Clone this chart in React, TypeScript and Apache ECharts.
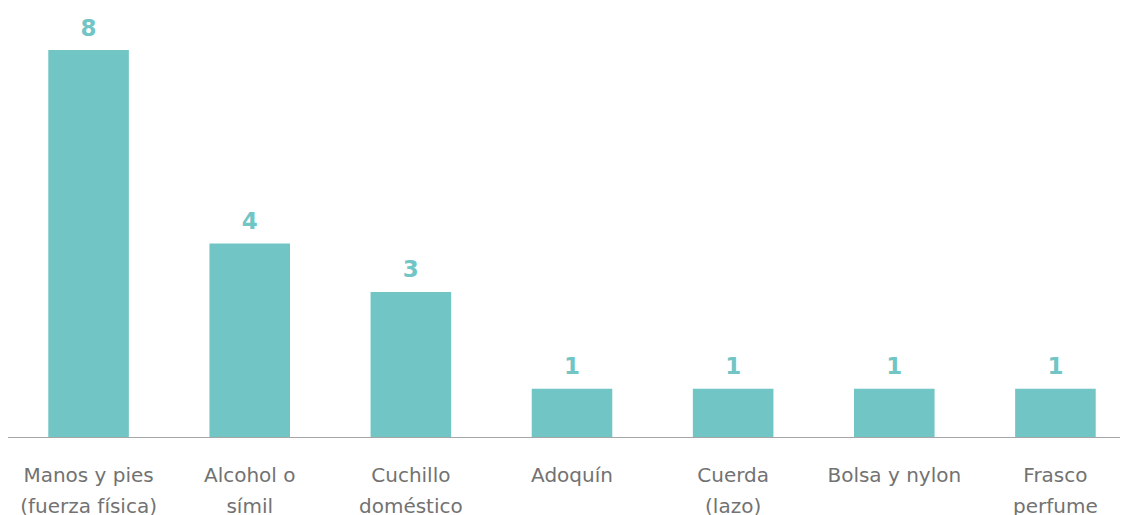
import React, { useEffect, useRef } from "react";
import * as echarts from "echarts";

const categories = [
  "Manos y pies\n(fuerza física)",
  "Alcohol o\nsímil",
  "Cuchillo\ndoméstico",
  "Adoquín",
  "Cuerda\n(lazo)",
  "Bolsa y nylon",
  "Frasco\nperfume",
];
const values = [8, 4, 3, 1, 1, 1, 1];

const TEAL = "#72C5C5";

export default function App() {
  const ref = useRef<HTMLDivElement>(null);
  useEffect(() => {
    if (!ref.current) return;
    const chart = echarts.init(ref.current, undefined, { renderer: "svg" });
    chart.setOption({
      animation: false,
      grid: {
        left: 0,
        width: 1128,
        top: 42,
        height: 387,
        containLabel: false,
        outerBoundsMode: "none",
      },
      xAxis: {
        type: "category",
        data: categories,
        axisLine: { show: true, lineStyle: { color: "#a6a6a6", width: 1 } },
        axisTick: { show: false },
        axisLabel: {
          interval: 0,
          color: "#727272",
          fontSize: 20,
          fontFamily: "DejaVu Sans",
          lineHeight: 31,
          margin: 22,
        },
      },
      yAxis: {
        type: "value",
        min: 0,
        max: 8,
        show: false,
        splitLine: { show: false },
      },
      series: [
        {
          type: "bar",
          data: values,
          barWidth: "50%",
          itemStyle: { color: TEAL },
          label: {
            show: true,
            position: "top",
            distance: 11,
            color: TEAL,
            fontSize: 23,
            fontWeight: "bold",
            fontFamily: "DejaVu Sans",
          },
        },
      ],
    });
    return () => chart.dispose();
  }, []);
  return <div ref={ref} style={{ width: 1128, height: 507 }} />;
}
